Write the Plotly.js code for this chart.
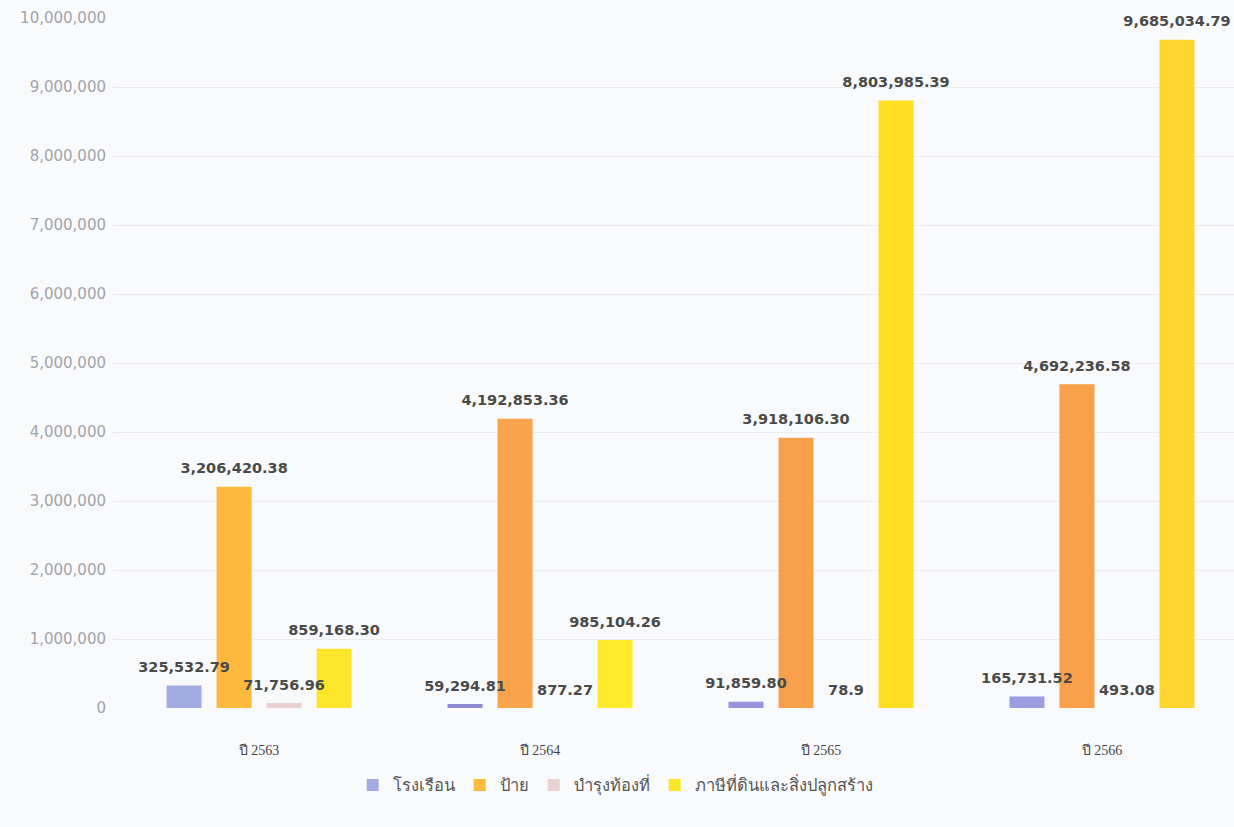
<!DOCTYPE html>
<html>
<head>
<meta charset="utf-8">
<script src="https://cdn.plot.ly/plotly-3.0.1.min.js"></script>
<style>
  html, body { margin: 0; padding: 0; background: #f9fafc; }
  #chart { width: 1234px; height: 827px; }
</style>
</head>
<body>
<div id="chart"></div>
<script>
// ---- data ----
const categories = ['ปี 2563', 'ปี 2564', 'ปี 2565', 'ปี 2566'];
const seriesNames = ['โรงเรือน', 'ป้าย', 'บำรุงท้องที่', 'ภาษีที่ดินและสิ่งปลูกสร้าง'];
const rongruean = [325532.79, 59294.81, 91859.80, 165731.52];
const pai = [3206420.38, 4192853.36, 3918106.30, 4692236.58];
const bamrung = [71756.96, 877.27, 78.9, 493.08];
const land = [859168.30, 985104.26, 8803985.39, 9685034.79];
const rongrueanLabels = ['325,532.79', '59,294.81', '91,859.80', '165,731.52'];
const paiLabels = ['3,206,420.38', '4,192,853.36', '3,918,106.30', '4,692,236.58'];
const bamrungLabels = ['71,756.96', '877.27', '78.9', '493.08'];
const landLabels = ['859,168.30', '985,104.26', '8,803,985.39', '9,685,034.79'];
const yTickVals = [0, 1000000, 2000000, 3000000, 4000000, 5000000, 6000000, 7000000, 8000000, 9000000, 10000000];
const yTickText = ['0', '1,000,000', '2,000,000', '3,000,000', '4,000,000', '5,000,000', '6,000,000', '7,000,000', '8,000,000', '9,000,000', '10,000,000'];

// ---- styles ----
const labelFont = { family: 'DejaVu Sans, Open Sans, sans-serif', size: 14.5, color: '#4a4a4a', weight: 'bold' };
const colors = [
  ['#a2ace2', '#8f8ad8', '#9a90dc', '#9a9ee0'],
  ['#fdb83e', '#f9a34a', '#f9a04c', '#f9a04a'],
  ['#ead2d2', '#ead2d2', '#ead2d2', '#ead2d2'],
  ['#fde52a', '#ffea2c', '#fede22', '#fdd52f']
];
const values = [rongruean, pai, bamrung, land];
const labels = [rongrueanLabels, paiLabels, bamrungLabels, landLabels];

const barTraces = values.map((v, i) => ({
  type: 'bar',
  name: seriesNames[i],
  x: categories,
  y: v,
  offsetgroup: 'g' + i,
  marker: { color: colors[i], line: { width: 0 } },
  hoverinfo: 'skip'
}));

// value labels drawn above all bars (scatter layer sits on top of bar layer)
const labelTraces = values.map((v, i) => ({
  type: 'scatter',
  mode: 'markers+text',
  x: categories,
  y: v,
  offsetgroup: 'g' + i,
  text: labels[i],
  textposition: 'top center',
  textfont: labelFont,
  marker: { size: 14, color: 'rgba(0,0,0,0)' },
  cliponaxis: false,
  showlegend: false,
  hoverinfo: 'skip'
}));

const layout = {
  width: 1234,
  height: 827,
  paper_bgcolor: '#f9fafc',
  plot_bgcolor: '#f9fafc',
  margin: { l: 113, r: 0, t: 18, b: 119 },
  barmode: 'group',
  scattermode: 'group',
  bargap: 0.288,
  scattergap: 0.288,
  bargroupgap: 0.3,
  showlegend: true,
  legend: {
    orientation: 'h',
    x: 0.448, xanchor: 'center', xref: 'paper',
    y: -0.112, yanchor: 'middle',
    font: { family: 'Liberation Serif, Noto Sans, serif', size: 16.5, color: '#555555' },
    bgcolor: 'rgba(0,0,0,0)',
    traceorder: 'normal'
  },
  xaxis: {
    type: 'category',
    range: [-0.52, 3.47],
    showgrid: false,
    zeroline: false,
    showline: false,
    ticks: '',
    ticklabelstandoff: 32,
    tickfont: { family: 'Liberation Serif, Noto Sans, serif', size: 14, color: '#444444' }
  },
  yaxis: {
    range: [0, 10000000],
    tickvals: yTickVals,
    ticktext: yTickText,
    showgrid: true,
    gridcolor: '#ececef',
    gridwidth: 1,
    zeroline: false,
    showline: false,
    ticks: '',
    ticklabelstandoff: 6,
    tickfont: { family: 'DejaVu Sans, Verdana, sans-serif', size: 15, color: '#a3a3a8' }
  }
};

Plotly.newPlot('chart', barTraces.concat(labelTraces), layout, { displayModeBar: false, staticPlot: true });
</script>
</body>
</html>
